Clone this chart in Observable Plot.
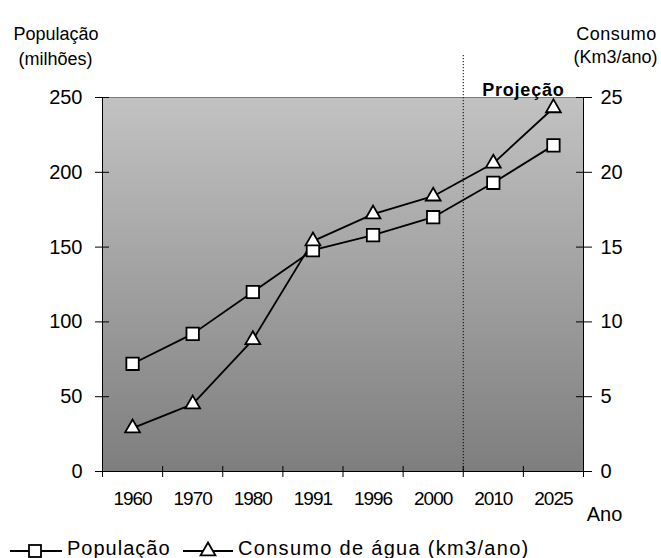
<!DOCTYPE html>
<html><head><meta charset="utf-8">
<script src="https://cdn.jsdelivr.net/npm/d3@7"></script>
<script src="https://cdn.jsdelivr.net/npm/@observablehq/plot@0.6"></script>
<style>
body{margin:0;background:#fff;font-family:"Liberation Sans",Arial,sans-serif}
#chart svg, #legend svg{display:block}
</style>
</head><body><div id="chart"></div><div id="legend"></div>
<script>
const years = ["1960","1970","1980","1991","1996","2000","2010","2025"];
const populacao = [72, 92, 120, 148, 158, 170, 193, 218];
const consumo = [2.9, 4.5, 8.8, 15.4, 17.2, 18.4, 20.6, 24.3];
const leftTicks = [0, 50, 100, 150, 200, 250];
const rightTicks = [0, 5, 10, 15, 20, 25];
const projecaoStart = "2010";
const leftTitle = ["População", "(milhões)"];
const rightTitle = ["Consumo", "(Km3/ano)"];
const xTitle = "Ano";
const projTitle = "Projeção";
const legendLabels = ["População", "Consumo de água (km3/ano)"];

const ratio = leftTicks[leftTicks.length-1] / rightTicks[rightTicks.length-1];
const rows = years.map((ano, i) => ({ano, pos: i + 0.5, pop: populacao[i], cons: consumo[i] * ratio}));
const projIdx = years.indexOf(projecaoStart);
const font = '"Liberation Sans", Arial, sans-serif';

const chart = Plot.plot({
  width: 661, height: 530,
  marginLeft: 102, marginRight: 78, marginTop: 97, marginBottom: 59,
  style: {fontFamily: font, background: "white", color: "black", overflow: "visible"},
  x: {type: "linear", domain: [0, years.length], axis: null},
  y: {domain: [0, leftTicks[leftTicks.length-1]], axis: null},
  marks: [
    Plot.frame({fill: "url(#bgGrad)", stroke: "none"}),
    Plot.ruleY([leftTicks[leftTicks.length-1]], {stroke: "#7a7a7a", strokeWidth: 1}),
    Plot.ruleX([projIdx], {stroke: "black", strokeWidth: 1, strokeDasharray: "1.2,1.8", insetTop: -42}),
    Plot.ruleX([0, years.length], {stroke: "black", strokeWidth: 1}),
    Plot.ruleY([0], {stroke: "black", strokeWidth: 1.2}),
    Plot.axisX({ticks: d3.range(years.length + 1), tickSize: 11, dy: -5, tickFormat: () => "", label: null}),
    Plot.axisX({ticks: rows.map(d => d.pos), tickSize: 0, tickPadding: 20, fontSize: 19,
      tickFormat: d => years[Math.floor(d)], label: null}),
    Plot.axisY({anchor: "left", ticks: leftTicks, tickSize: 14, dx: 7, tickPadding: 13, fontSize: 20, label: null}),
    Plot.axisY({anchor: "right", ticks: rightTicks.map(v => v * ratio), tickFormat: d => d / ratio,
      tickSize: 16, dx: -8, tickPadding: 9, fontSize: 20, label: null}),
    Plot.line(rows, {x: "pos", y: "pop", stroke: "black", strokeWidth: 1.8}),
    Plot.line(rows, {x: "pos", y: "cons", stroke: "black", strokeWidth: 1.8}),
    Plot.dot(rows, {x: "pos", y: "pop", symbol: "square", r: 7, fill: "white", stroke: "black", strokeWidth: 1.8}),
    Plot.dot(rows, {x: "pos", y: "cons", symbol: "triangle", r: 5.5, fill: "white", stroke: "black", strokeWidth: 1.8}),
    Plot.text([leftTitle[0]], {text: d => d, frameAnchor: "top-left", textAnchor: "middle", dx: -46.5, dy: -70, fontSize: 18}),
    Plot.text([leftTitle[1]], {text: d => d, frameAnchor: "top-left", textAnchor: "middle", dx: -47, dy: -45, fontSize: 18}),
    Plot.text([rightTitle[0]], {text: d => d, frameAnchor: "top-right", textAnchor: "middle", dx: 33, dy: -70, fontSize: 18, ariaDescription: "spaced"}),
    Plot.text([rightTitle[1]], {text: d => d, frameAnchor: "top-right", textAnchor: "middle", dx: 32, dy: -47, fontSize: 18}),
    Plot.text([{t: projTitle, x: (projIdx + years.length) / 2}], {x: "x", text: "t", frameAnchor: "top", dy: -14,
      fontSize: 18, fontWeight: "bold", ariaDescription: "proj"}),
    Plot.text([xTitle], {text: d => d, frameAnchor: "bottom-right", textAnchor: "middle", dx: 21, dy: 49, fontSize: 20})
  ]
});

const svg = d3.select(chart);
const grad = svg.insert("defs", ":first-child").append("linearGradient")
  .attr("id", "bgGrad").attr("x1", 0).attr("y1", 0).attr("x2", 0).attr("y2", 1);
grad.append("stop").attr("offset", "0%").attr("stop-color", "#c2c2c2");
grad.append("stop").attr("offset", "100%").attr("stop-color", "#7e7e7e");
svg.selectAll("text").attr("font-family", font);
svg.selectAll('[aria-description="proj"] text').attr("letter-spacing", 0.8);
svg.selectAll('[aria-description="spaced"] text').attr("letter-spacing", 0.5);
svg.selectAll('g[aria-label="x-axis tick label"] text').attr("letter-spacing", -1);
document.getElementById("chart").appendChild(chart);

// Legend below the chart
const lg = d3.select("#legend").append("svg").attr("width", 661).attr("height", 28)
  .style("font-family", font);
const ly = 21;
lg.append("line").attr("x1", 10).attr("x2", 62).attr("y1", ly).attr("y2", ly).attr("stroke", "black").attr("stroke-width", 1.8);
lg.append("rect").attr("x", 29).attr("y", ly - 6).attr("width", 12).attr("height", 12)
  .attr("fill", "white").attr("stroke", "black").attr("stroke-width", 1.8);
lg.append("text").attr("x", 67).attr("y", 25).attr("font-size", 20).attr("letter-spacing", 1).text(legendLabels[0]);
lg.append("line").attr("x1", 183).attr("x2", 233).attr("y1", ly).attr("y2", ly).attr("stroke", "black").attr("stroke-width", 1.8);
lg.append("path").attr("d", d3.symbol(d3.symbolTriangle, Math.PI * 5.5 * 5.5)()).attr("transform", `translate(208,${ly})`)
  .attr("fill", "white").attr("stroke", "black").attr("stroke-width", 1.8);
lg.append("text").attr("x", 238).attr("y", 25).attr("font-size", 20).attr("letter-spacing", 1.3).text(legendLabels[1]);
</script>
</body></html>
